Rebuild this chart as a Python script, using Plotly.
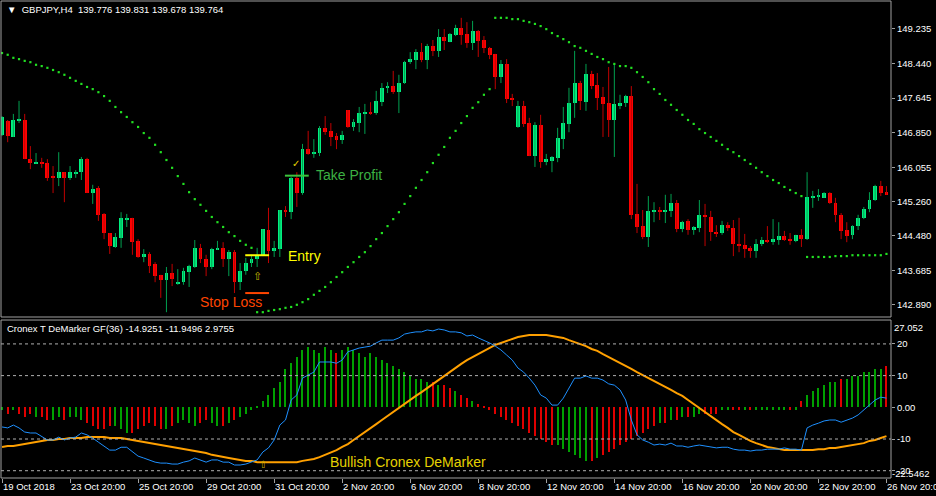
import plotly.graph_objects as go

# ---------------- data ----------------
N_BARS = 157
bar_index = list(range(N_BARS))

x_tick_pos = [0, 12, 24, 36, 48, 60, 72, 84, 96, 108, 120, 132, 144, 156]
x_tick_text = ["19 Oct 2018", "23 Oct 20:00", "25 Oct 20:00", "29 Oct 20:00", "31 Oct 20:00",
               "2 Nov 20:00", "6 Nov 20:00", "8 Nov 20:00", "12 Nov 20:00", "14 Nov 20:00",
               "16 Nov 20:00", "20 Nov 20:00", "22 Nov 20:00", "26 Nov 20:00"]

price_ticks = [149.235, 148.440, 147.645, 146.850, 146.055, 145.260, 144.480, 143.685, 142.890]
ind_ticks = [20, 10, 0, -10, -20]
ind_tick_text = ["20", "10", "0.00", "-10", "-20"]
ind_levels = [20, 10, -10, -20]

opens = [146.80, 147.12, 146.75, 147.12, 147.14, 146.24, 146.15, 146.17, 146.15, 145.83,
         145.81, 145.94, 145.81, 145.92, 145.94, 146.24, 145.46, 145.58, 144.98, 144.54,
         144.22, 144.43, 144.86, 144.89, 144.36, 143.99, 144.06, 143.83, 143.58, 143.46,
         143.62, 143.39, 143.41, 143.64, 143.76, 144.20, 143.94, 143.76, 144.17, 144.20,
         143.94, 144.10, 143.41, 143.67, 143.85, 143.94, 144.04, 144.61, 144.13, 144.17,
         145.07, 145.02, 145.81, 145.46, 146.47, 146.36, 146.38, 146.96, 146.89, 146.77,
         146.68, 147.37, 146.98, 147.07, 147.30, 147.32, 147.30, 147.55, 147.88, 147.92,
         147.78, 147.99, 148.47, 148.52, 148.70, 148.52, 148.84, 148.73, 149.05, 148.93,
         149.10, 149.26, 149.12, 148.91, 149.19, 148.98, 148.80, 148.66, 148.13, 148.43,
         147.65, 146.98, 147.46, 147.07, 146.31, 147.03, 146.17, 146.20, 146.27, 146.70,
         147.05, 147.53, 147.99, 147.55, 148.20, 147.95, 147.67, 147.53, 147.14, 147.46,
         147.53, 147.69, 144.98, 144.70, 144.45, 145.02, 145.07, 145.02, 145.05, 145.23,
         144.63, 144.82, 144.61, 144.66, 144.96, 144.91, 144.56, 144.54, 144.72, 144.66,
         144.29, 144.27, 144.20, 144.13, 144.29, 144.38, 144.33, 144.38, 144.47, 144.40,
         144.36, 144.50, 144.40, 145.35, 145.37, 145.35, 145.46, 145.23, 144.96, 144.61,
         144.50, 144.70, 144.89, 145.09, 145.30, 145.62, 145.48]
highs = [147.23, 147.14, 147.28, 147.58, 147.28, 146.54, 146.38, 146.27, 146.24, 146.08,
         146.40, 145.94, 146.08, 145.99, 146.29, 146.27, 145.65, 145.62, 145.00, 144.54,
         144.54, 145.02, 144.98, 144.89, 144.40, 144.17, 144.10, 143.87, 143.58, 143.76,
         143.83, 143.71, 143.74, 143.81, 144.38, 144.29, 144.04, 144.20, 144.36, 144.33,
         144.15, 144.15, 143.85, 143.97, 144.04, 144.20, 144.63, 145.12, 144.36, 145.07,
         145.16, 145.83, 145.94, 146.59, 146.89, 146.70, 147.00, 147.23, 147.07, 146.84,
         146.89, 147.37, 147.16, 147.44, 147.51, 147.55, 147.81, 147.99, 148.01, 148.27,
         148.18, 148.50, 148.70, 148.77, 148.91, 148.89, 148.98, 149.23, 149.23, 149.14,
         149.33, 149.49, 149.39, 149.42, 149.21, 149.07, 148.82, 148.66, 148.52, 148.54,
         147.74, 147.58, 147.58, 147.19, 147.09, 147.26, 146.36, 146.31, 146.96, 147.44,
         147.88, 148.73, 148.04, 148.43, 148.27, 148.22, 147.90, 148.36, 148.43, 147.72,
         147.72, 147.92, 145.67, 145.07, 145.39, 145.25, 145.14, 145.42, 145.44, 145.30,
         144.82, 144.86, 144.70, 145.30, 145.21, 145.05, 144.72, 144.82, 144.79, 144.84,
         144.89, 144.52, 144.24, 144.40, 144.45, 144.70, 144.86, 144.79, 144.59, 144.54,
         144.50, 144.63, 145.94, 145.51, 145.55, 145.48, 145.48, 145.35, 145.00, 144.79,
         144.72, 144.96, 145.14, 145.48, 145.65, 145.74, 145.62]
lows = [146.77, 146.63, 146.75, 147.07, 146.24, 146.01, 146.13, 146.04, 145.74, 145.46,
        145.62, 145.25, 145.76, 145.81, 145.76, 145.46, 145.21, 144.82, 144.40, 144.06,
        144.20, 144.20, 144.68, 144.04, 143.97, 143.87, 143.62, 143.41, 143.05, 142.72,
        143.32, 143.35, 143.35, 143.30, 143.74, 143.85, 143.55, 143.71, 144.15, 143.76,
        143.55, 143.16, 143.23, 143.58, 143.76, 143.76, 144.01, 143.85, 143.99, 143.99,
        144.91, 144.86, 145.14, 145.42, 146.34, 146.27, 146.31, 146.80, 146.54, 146.47,
        146.59, 146.96, 146.89, 146.86, 146.82, 147.26, 147.26, 147.46, 147.76, 147.74,
        147.30, 147.97, 148.43, 148.31, 148.47, 148.31, 148.61, 148.59, 148.75, 148.93,
        149.07, 148.87, 148.80, 148.75, 148.59, 148.68, 148.54, 147.85, 147.99, 147.53,
        147.46, 146.96, 146.98, 146.31, 146.06, 146.04, 146.10, 145.94, 146.17, 146.47,
        146.86, 147.19, 147.37, 147.35, 147.85, 147.37, 146.75, 146.75, 146.29, 147.39,
        147.44, 144.86, 144.54, 144.40, 144.22, 144.79, 144.84, 144.77, 144.91, 144.56,
        144.56, 144.50, 144.50, 144.56, 144.24, 144.36, 144.45, 144.50, 144.59, 144.01,
        144.10, 143.97, 143.97, 143.97, 144.24, 144.31, 144.27, 144.27, 144.36, 144.27,
        144.33, 144.22, 144.38, 145.12, 145.28, 145.35, 145.21, 144.79, 144.40, 144.33,
        144.40, 144.61, 144.86, 145.02, 145.28, 145.39, 145.42]
closes = [147.21, 146.77, 147.14, 147.14, 146.24, 146.15, 146.17, 146.13, 145.81, 145.81,
          145.94, 145.81, 145.94, 145.94, 146.24, 145.46, 145.55, 144.96, 144.54, 144.24,
          144.45, 144.89, 144.89, 144.33, 143.99, 144.06, 143.78, 143.55, 143.46, 143.62,
          143.48, 143.41, 143.67, 143.78, 144.20, 143.94, 143.76, 144.17, 144.20, 143.94,
          144.10, 143.41, 143.67, 143.85, 143.94, 144.04, 144.63, 144.13, 144.20, 145.07,
          145.02, 145.81, 145.46, 146.47, 146.36, 146.40, 146.96, 146.86, 146.75, 146.68,
          146.80, 146.98, 147.09, 147.30, 147.32, 147.30, 147.58, 147.88, 147.92, 147.78,
          147.99, 148.47, 148.54, 148.70, 148.52, 148.84, 148.73, 149.05, 148.96, 149.12,
          149.26, 149.10, 148.91, 149.19, 148.96, 148.80, 148.64, 148.13, 148.43, 147.62,
          147.62, 147.46, 147.05, 146.31, 147.03, 146.17, 146.24, 146.29, 146.73, 147.07,
          147.53, 147.99, 147.58, 148.20, 147.92, 147.65, 147.51, 147.14, 147.51, 147.53,
          147.69, 144.96, 144.68, 144.45, 145.05, 145.07, 145.02, 145.07, 145.23, 144.63,
          144.79, 144.61, 144.68, 144.96, 144.91, 144.56, 144.54, 144.72, 144.66, 144.29,
          144.24, 144.17, 144.13, 144.29, 144.38, 144.33, 144.40, 144.47, 144.38, 144.36,
          144.50, 144.40, 145.37, 145.39, 145.39, 145.46, 145.23, 144.96, 144.59, 144.47,
          144.70, 144.89, 145.09, 145.30, 145.62, 145.46, 145.42]

# green dotted trend line, four segments (start bar, values)
trend_seg1_start = 0
trend_seg1 = [148.68, 148.64, 148.57, 148.54, 148.50, 148.47, 148.41, 148.38, 148.34, 148.29,
              148.24, 148.18, 148.11, 148.04, 147.97, 147.90, 147.85, 147.78, 147.69, 147.58,
              147.44, 147.32, 147.21, 147.09, 146.98, 146.84, 146.73, 146.57, 146.40, 146.22,
              146.04, 145.85, 145.67, 145.48, 145.32, 145.19, 145.05, 144.91, 144.79, 144.68,
              144.56, 144.47, 144.36, 144.27, 144.20]
trend_seg2_start = 45
trend_seg2 = [142.72, 142.72, 142.75, 142.77, 142.79, 142.82, 142.84, 142.89, 142.95, 143.02,
              143.12, 143.21, 143.30, 143.41, 143.53, 143.64, 143.76, 143.87, 143.99, 144.10,
              144.24, 144.40, 144.54, 144.70, 144.86, 145.02, 145.21, 145.39, 145.58, 145.76,
              145.94, 146.15, 146.34, 146.52, 146.73, 146.89, 147.07, 147.23, 147.42, 147.55,
              147.72, 147.85]
trend_seg3_start = 87
trend_seg3 = [149.49, 149.49, 149.49, 149.46, 149.46, 149.42, 149.39, 149.35, 149.30, 149.23,
              149.14, 149.07, 149.00, 148.93, 148.84, 148.80, 148.73, 148.66, 148.59, 148.54,
              148.47, 148.43, 148.38, 148.38, 148.34, 148.24, 148.13, 148.01, 147.85, 147.74,
              147.60, 147.49, 147.37, 147.26, 147.14, 147.05, 146.93, 146.84, 146.75, 146.66,
              146.57, 146.47, 146.40, 146.31, 146.22, 146.13, 146.04, 145.94, 145.85, 145.76,
              145.69, 145.60, 145.53, 145.46, 145.39]
trend_seg4_start = 142
trend_seg4 = [143.99, 143.99, 143.99, 143.99, 143.99, 144.01, 144.01, 144.01, 144.03, 144.03,
              144.03, 144.03, 144.03, 144.03, 144.06]

# Cronex DeMarker indicator
dem_fast = [-6.2, -6.5, -5.6, -6.5, -7.8, -8.1, -8.1, -9.1, -10.3, -10.3,
            -9.4, -10.3, -9.7, -9.4, -8.1, -8.7, -9.7, -11.0, -12.2, -13.5,
            -13.5, -12.6, -12.6, -14.1, -15.4, -16.0, -16.6, -17.3, -17.6, -17.6,
            -17.9, -17.9, -17.3, -16.9, -16.0, -16.6, -17.3, -16.6, -16.6, -17.3,
            -17.3, -18.2, -18.2, -17.9, -17.3, -16.6, -14.1, -12.8, -10.3, -5.6,
            -4.0, 2.3, 3.9, 9.2, 10.2, 11.1, 14.3, 14.3, 14.3, 13.9,
            14.9, 17.5, 18.1, 18.7, 19.0, 19.3, 20.3, 21.2, 21.2, 21.2,
            21.9, 23.1, 23.5, 23.8, 23.8, 24.4, 24.1, 24.7, 24.4, 23.8,
            23.8, 23.5, 22.5, 22.8, 21.9, 21.2, 20.3, 19.3, 18.1, 16.5,
            14.9, 12.4, 11.1, 9.2, 7.0, 3.9, 2.9, 0.7, 0.7, 2.9,
            6.1, 9.2, 9.2, 9.9, 9.2, 9.2, 8.6, 7.4, 7.0, 5.5,
            2.3, -4.0, -8.7, -10.3, -11.0, -11.9, -11.6, -11.9, -11.3, -12.2,
            -12.2, -12.6, -12.2, -11.9, -12.2, -12.6, -12.8, -12.6, -12.6, -13.2,
            -13.5, -13.5, -13.8, -13.5, -13.5, -13.2, -13.2, -13.2, -12.8, -13.2,
            -13.2, -13.5, -6.5, -5.6, -5.0, -4.3, -4.0, -4.0, -4.7, -4.0,
            -3.4, -2.4, -0.9, 0.7, 2.3, 3.2, 2.9]
dem_slow = [-12.5, -12.2, -12.2, -11.9, -11.6, -11.3, -11.0, -10.6, -10.3, -10.3,
            -10.0, -10.0, -9.7, -9.7, -9.7, -9.4, -9.4, -9.4, -9.4, -9.7,
            -9.7, -9.7, -10.0, -10.3, -10.6, -11.0, -11.3, -11.6, -11.9, -12.2,
            -12.5, -12.8, -13.2, -13.5, -13.8, -14.1, -14.4, -15.0, -15.4, -15.7,
            -16.0, -16.3, -16.6, -16.9, -16.9, -17.3, -17.3, -17.3, -17.3, -17.3,
            -17.3, -17.3, -17.3, -16.9, -16.6, -16.3, -15.7, -15.0, -14.4, -13.5,
            -12.5, -11.6, -10.3, -9.1, -7.8, -6.5, -5.3, -4.0, -2.7, -1.5,
            -0.2, 1.0, 2.3, 3.6, 4.8, 6.1, 7.4, 8.6, 9.9, 11.1,
            12.4, 13.7, 14.9, 15.9, 16.8, 17.8, 18.7, 19.7, 20.3, 20.9,
            21.5, 22.2, 22.5, 22.8, 22.8, 22.8, 22.8, 22.5, 22.2, 21.9,
            21.2, 20.6, 20.0, 19.3, 18.4, 17.8, 16.8, 15.9, 14.9, 13.9,
            13.0, 12.1, 11.1, 10.2, 9.2, 8.3, 7.4, 6.4, 5.5, 4.5,
            3.6, 2.3, 1.0, -0.2, -1.5, -2.7, -4.0, -5.3, -6.5, -7.8,
            -8.7, -9.7, -10.6, -11.3, -11.9, -12.5, -12.8, -13.2, -13.5, -13.5,
            -13.5, -13.5, -13.5, -13.5, -13.2, -13.2, -12.8, -12.8, -12.5, -12.2,
            -11.9, -11.6, -11.3, -10.6, -10.3, -9.7, -9.1]
dem_hist = [-1, -2, -1, -2, -3, -2, -3, -3, -4, -4, -3, -4, -3, -3,
            -4, -5, -6, -7, -7, -6, -6, -7, -8, -8, -7, -6, -5, -6, -7, -7, -6, -5, -4, -5,
            -6, -5, -4, -5, -6, -6, -5, -4, -3,
            -2, -1, 0.5, 2, 4, 6, 8,
            12, 14, 16, 18, 19, 18, 17, 19, 18, 17, 18, 19, 18, 17, 16, 17, 16, 15, 14, 13, 12,
            11, 10, 9, 9, 8, 8, 7, 7,
            6, 5, 4, 3, 2, 1, 0.5, -1, -2,
            -3, -4, -5, -6, -7, -8, -9, -10, -11, -12, -12,
            -13, -14, -15, -16, -17, -17, -16, -15, -14, -13, -12, -11, -10, -9, -8, -7, -6,
            -5, -5, -4, -4, -3, -3, -3, -2, -2, -2, -2, -1, -1, -1, -1, -1, -1, -1, -1, -1,
            -1, -1, -1, -1, -1,
            2, 4, 5, 6, 7, 8, 8, 9, 9, 10, 10, 11, 11, 12, 12, 13]

# trade markings (price levels / bar positions)
tp_price, tp_bar0, tp_bar1 = 145.86, 49.9, 54.1
entry_price, entry_bar0, entry_bar1 = 144.03, 42.9, 47.1
sl_price, sl_bar0, sl_bar1 = 143.16, 42.9, 47.1

# ---------------- style ----------------
BG = "#000000"
FRAME = "#A0A0A0"
TXT = "#FFFFFF"
UP_BODY, UP_WICK = "#00F080", "#00A050"
DN_BODY, DN_WICK = "#FF0000", "#C00000"
HIST_UP, HIST_DN = "#00A000", "#E00000"
FONT = "Liberation Sans"

fig = go.Figure()

up = [i for i in bar_index if closes[i] >= opens[i]]
dn = [i for i in bar_index if closes[i] < opens[i]]


def wick_xy(sel):
    xs, ys = [], []
    for i in sel:
        xs += [i, i, None]
        ys += [lows[i], highs[i], None]
    return xs, ys


for sel, wc in ((up, UP_WICK), (dn, DN_WICK)):
    wx, wy = wick_xy(sel)
    fig.add_trace(go.Scatter(x=wx, y=wy, mode="lines", line=dict(color=wc, width=1),
                             hoverinfo="skip", showlegend=False, xaxis="x", yaxis="y"))
for sel, bc in ((up, UP_BODY), (dn, DN_BODY)):
    fig.add_trace(go.Bar(x=sel,
                         y=[max(abs(closes[i] - opens[i]), 0.03) for i in sel],
                         base=[min(opens[i], closes[i]) for i in sel],
                         width=0.68, marker=dict(color=bc, line=dict(width=0)),
                         showlegend=False, xaxis="x", yaxis="y"))

for start, seg in ((trend_seg1_start, trend_seg1), (trend_seg2_start, trend_seg2),
                   (trend_seg3_start, trend_seg3), (trend_seg4_start, trend_seg4)):
    fig.add_trace(go.Scatter(x=list(range(start, start + len(seg))), y=seg, mode="markers",
                             marker=dict(symbol="square", size=2.2, color="#22E022", line=dict(width=0)),
                             showlegend=False, xaxis="x", yaxis="y"))

# indicator: histogram coloured by the direction of the fast line
hist_colors = [HIST_UP if (i == 0 or dem_fast[i] >= dem_fast[i - 1]) else HIST_DN for i in bar_index]
fig.add_trace(go.Bar(x=bar_index, y=dem_hist, width=0.22, marker=dict(color=hist_colors, line=dict(width=0)),
                     showlegend=False, xaxis="x2", yaxis="y2"))
fig.add_trace(go.Scatter(x=bar_index, y=dem_slow, mode="lines", line=dict(color="#FFA000", width=2),
                         showlegend=False, xaxis="x2", yaxis="y2"))
fig.add_trace(go.Scatter(x=bar_index, y=dem_fast, mode="lines", line=dict(color="#1E90FF", width=1),
                         showlegend=False, xaxis="x2", yaxis="y2"))

MAIN_DOM = [0.3375, 1.0]
IND_DOM = [0.0, 0.3312]
XR = [-0.18, 156.8]

shapes = []
for lv in ind_levels:
    shapes.append(dict(type="line", xref="x2 domain", yref="y2", x0=0, x1=1, y0=lv, y1=lv,
                       line=dict(color="#B0B0B0", width=1, dash="3px,3px")))
for d in (MAIN_DOM, IND_DOM):
    shapes.append(dict(type="rect", xref="paper", yref="paper", x0=0, x1=1, y0=d[0], y1=d[1],
                       line=dict(color=FRAME, width=1)))
shapes.append(dict(type="line", xref="x", yref="y", x0=tp_bar0, x1=tp_bar1, y0=tp_price, y1=tp_price,
                   line=dict(color="#3CC23C", width=2)))
shapes.append(dict(type="line", xref="x", yref="y", x0=entry_bar0, x1=entry_bar1, y0=entry_price, y1=entry_price,
                   line=dict(color="#FFFF00", width=2)))
shapes.append(dict(type="line", xref="x", yref="y", x0=sl_bar0, x1=sl_bar1, y0=sl_price, y1=sl_price,
                   line=dict(color="#FF4500", width=2)))

ann = []
ann.append(dict(text="▼  GBPJPY,H4  139.776 139.831 139.678 139.764", xref="paper", yref="paper",
                x=0.004, y=1, xanchor="left", yanchor="top", yshift=-1, showarrow=False,
                font=dict(family=FONT, size=9.5, color=TXT)))
ann.append(dict(text="Cronex T DeMarker GF(36) -14.9251 -11.9496 2.9755", xref="paper", yref="paper",
                x=0.004, y=IND_DOM[1], xanchor="left", yanchor="top", yshift=-1, showarrow=False,
                font=dict(family=FONT, size=9.5, color=TXT)))
for pos, t in zip(x_tick_pos, x_tick_text):
    ann.append(dict(text=t, xref="x2", yref="paper", x=pos, y=0, xanchor="left", yanchor="top",
                    xshift=-1, yshift=-1, showarrow=False, font=dict(family=FONT, size=9.5, color=TXT)))
ann.append(dict(text="27.052", xref="paper", yref="y2", x=1, y=25.3, xanchor="left", yanchor="middle",
                xshift=1, showarrow=False, font=dict(family=FONT, size=9.5, color=TXT)))
ann.append(dict(text="-22.5462", xref="paper", yref="y2", x=1, y=-20.9, xanchor="left", yanchor="middle",
                xshift=-1, showarrow=False, font=dict(family=FONT, size=9.5, color=TXT)))
ann.append(dict(text="Take Profit", xref="x", yref="y", x=55.0, y=145.87, xanchor="left", yanchor="middle",
                showarrow=False, font=dict(family=FONT, size=14, color="#3CB043")))
ann.append(dict(text="Entry", xref="x", yref="y", x=50.1, y=144.01, xanchor="left", yanchor="middle",
                showarrow=False, font=dict(family=FONT, size=14, color="#FFFF00")))
ann.append(dict(text="Stop Loss", xref="x", yref="y", x=34.6, y=142.95, xanchor="left", yanchor="middle",
                showarrow=False, font=dict(family=FONT, size=14, color="#FF4500")))
ann.append(dict(text="✓", xref="x", yref="y", x=51.9, y=146.15, showarrow=False,
                font=dict(family="DejaVu Sans", size=10, color="#E6D200")))
ann.append(dict(text="⇧", xref="x", yref="y", x=45.0, y=143.55, showarrow=False,
                font=dict(family="DejaVu Sans", size=11, color="#C8B400")))
ann.append(dict(text="Bullish Cronex DeMarker", xref="x2", yref="y2", x=57.5, y=-17.3, xanchor="left",
                yanchor="middle", showarrow=False, font=dict(family=FONT, size=14, color="#E6D200")))
ann.append(dict(text="⇧", xref="x2", yref="y2", x=46.0, y=-18.0, showarrow=False,
                font=dict(family="DejaVu Sans", size=10, color="#C8B400")))

fig.update_layout(
    width=936, height=496,
    margin=dict(l=1, r=45, t=1, b=18),
    paper_bgcolor=BG, plot_bgcolor=BG,
    barmode="overlay", bargap=0,
    showlegend=False,
    shapes=shapes, annotations=ann,
    xaxis=dict(domain=[0, 1], range=XR, anchor="y", showticklabels=False, showgrid=False,
               zeroline=False, showline=False, ticks=""),
    xaxis2=dict(domain=[0, 1], range=XR, matches="x", anchor="y2", showticklabels=False, showgrid=False,
                zeroline=False, showline=False, ticks="outside", ticklen=4, tickcolor=FRAME,
                tickvals=x_tick_pos),
    yaxis=dict(domain=MAIN_DOM, range=[142.609, 149.877], side="right", anchor="x",
               tickvals=price_ticks, ticktext=[f"{v:.3f}" for v in price_ticks],
               ticks="outside", ticklen=3, tickcolor=FRAME, showgrid=False, zeroline=False,
               showline=False, tickfont=dict(family=FONT, size=9.5, color=TXT)),
    yaxis2=dict(domain=IND_DOM, range=[-22.3, 27.54], side="right", anchor="x2",
                tickvals=ind_ticks, ticktext=ind_tick_text,
                ticks="outside", ticklen=3, tickcolor=FRAME, showgrid=False, zeroline=False,
                showline=False, tickfont=dict(family=FONT, size=9.5, color=TXT)),
)

fig.write_html("out.html", config={"displayModeBar": False},
               post_script="document.body.style.margin='0';document.body.style.overflow='hidden';")
